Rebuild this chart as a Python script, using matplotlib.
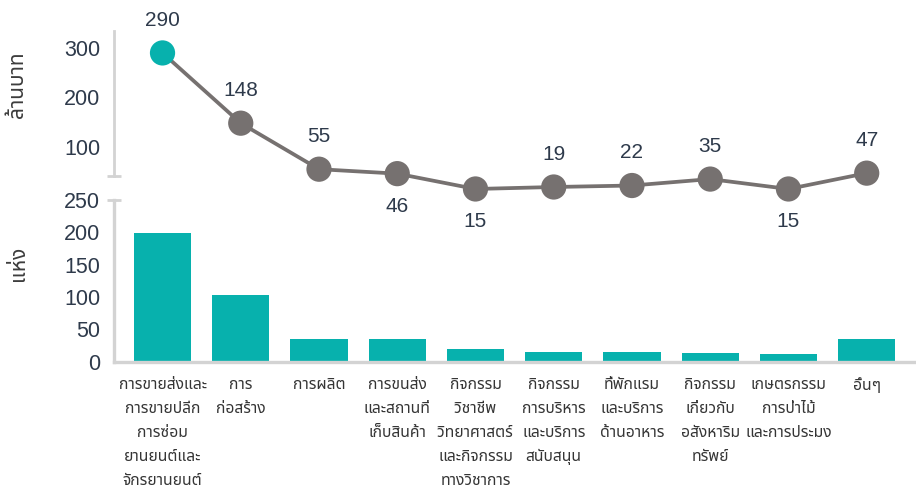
import matplotlib
matplotlib.use("Agg")
import matplotlib.pyplot as plt
from matplotlib.transforms import blended_transform_factory

# ---------------- data ----------------
categories = [
    "การขายส่งและ\nการขายปลีก\nการซ่อม\nยานยนต์และ\nจักรยานยนต์",
    "การ\nก่อสร้าง",
    "การผลิต",
    "การขนส่ง\nและสถานที่\nเก็บสินค้า",
    "กิจกรรม\nวิชาชีพ\nวิทยาศาสตร์\nและกิจกรรม\nทางวิชาการ",
    "กิจกรรม\nการบริหาร\nและบริการ\nสนับสนุน",
    "ที่พักแรม\nและบริการ\nด้านอาหาร",
    "กิจกรรม\nเกี่ยวกับ\nอสังหาริม\nทรัพย์",
    "เกษตรกรรม\nการป่าไม้\nและการประมง",
    "อื่นๆ",
]
value_mbaht = [290, 148, 55, 46, 15, 19, 22, 35, 15, 47]
count_places = [199, 103, 35, 35, 19, 15, 15, 13, 12, 35]
label_side = ["above", "above", "above", "below", "below",
              "above", "above", "above", "below", "above"]
top_ticks = [100, 200, 300]
bottom_ticks = [0, 50, 100, 150, 200, 250]
top_title = "ล้านบาท"
bottom_title = "แห่ง"

# ---------------- style ----------------
TEAL = "#07b1ad"
GRAY = "#767170"
SPINE = "#d3d3d3"
TXT = "#2e3a4b"
TITLE = "#3d3d3d"
CAT = "#353535"
plt.rcParams["font.family"] = ["Liberation Sans", "Noto Sans Thai"]

W, H = 916, 486
fig = plt.figure(figsize=(W / 100, H / 100), dpi=100)


def rect(l, t, r, b):
    return [l / W, 1 - b / H, (r - l) / W, (b - t) / H]


ax2 = fig.add_axes(rect(114, 200, 916, 361.5))
ax1 = fig.add_axes(rect(114, 0, 916, 196.4))
ax1.set_zorder(5)
ax1.patch.set_visible(False)
xs = list(range(len(categories)))
XLIM = (-0.62, 9.63)

# ---- top: line chart ----
ax1.plot(xs, value_mbaht, color=GRAY, lw=2.7, zorder=2, clip_on=False)
pt_colors = [TEAL] + [GRAY] * (len(xs) - 1)
ax1.scatter(xs, value_mbaht, s=330, c=pt_colors, zorder=3, clip_on=False,
            linewidths=0)
for x, v, side in zip(xs, value_mbaht, label_side):
    dy = 23.5 if side == "above" else -23.5
    ax1.annotate(str(v), (x, v), xytext=(0, dy), textcoords="offset points",
                 ha="center", va="center", fontsize=15, color=TXT,
                 annotation_clip=False)
ax1.set_xlim(*XLIM)
ax1.set_ylim(0, 397)
for s in ("top", "right", "bottom"):
    ax1.spines[s].set_visible(False)
ax1.spines["left"].set_bounds(41, 334)
ax1.spines["left"].set_color(SPINE)
ax1.spines["left"].set_linewidth(2)
ax1.set_xticks([])
ax1.set_yticks(top_ticks)
ax1.tick_params(axis="y", length=0, pad=10, labelsize=15.5, labelcolor=TXT)
tr1 = blended_transform_factory(ax1.transAxes, ax1.transData)
ax1.plot([0], [41], marker="_", ms=10, mew=2, color=SPINE,
         transform=tr1, clip_on=False)

# ---- bottom: bar chart ----
ax2.bar(xs, count_places, width=0.73, color=TEAL, zorder=2)
ax2.set_xlim(*XLIM)
ax2.set_ylim(0, 250)
for s in ("top", "right"):
    ax2.spines[s].set_visible(False)
for s in ("left", "bottom"):
    ax2.spines[s].set_color(SPINE)
    ax2.spines[s].set_linewidth(2.4)
ax2.set_yticks(bottom_ticks)
ax2.tick_params(axis="y", length=0, pad=10, labelsize=15.5, labelcolor=TXT)
ax2.set_xticks(xs)
ax2.set_xticklabels(categories, fontsize=11.3, color=CAT, linespacing=1.75,
                    va="top", ha="center")
ax2.tick_params(axis="x", length=0, pad=11)
tr2 = blended_transform_factory(ax2.transAxes, ax2.transData)
ax2.plot([0], [250], marker="_", ms=10, mew=2, color=SPINE,
         transform=tr2, clip_on=False)

# ---- axis titles ----
fig.text(18 / W, 1 - 85 / H, top_title, rotation=90, ha="center",
         va="center", fontsize=15, color=TITLE)
fig.text(18 / W, 1 - 263 / H, bottom_title, rotation=90, ha="center",
         va="center", fontsize=15, color=TITLE)

fig.savefig("out.png", dpi=100)
